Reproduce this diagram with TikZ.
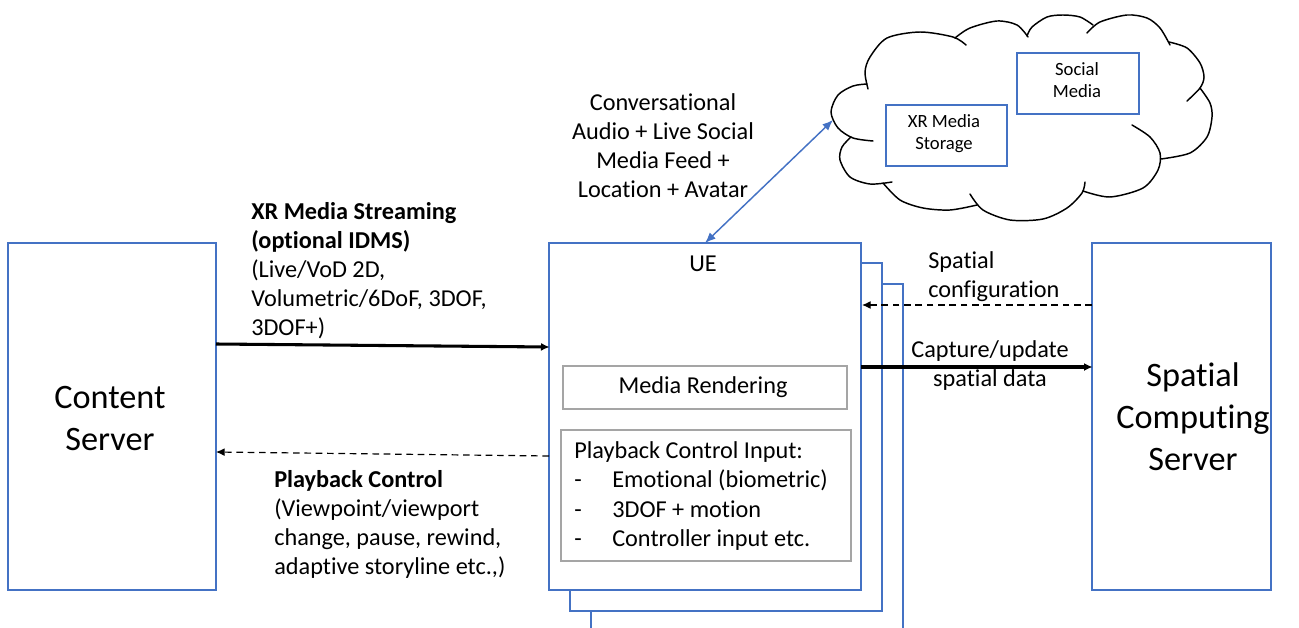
\documentclass[tikz,border=0pt]{standalone}
\usepackage{fontspec}
\setmainfont[Ligatures=NoCommon]{Carlito}
\usetikzlibrary{arrows.meta}
\definecolor{bl}{HTML}{4472C4}
\definecolor{gr}{HTML}{A5A5A5}
\tikzset{
 x=0.75pt,y=-0.75pt,
 bluebox/.style={draw=bl,line width=1.3pt,fill=white,inner sep=0pt,outer sep=0pt,anchor=north west},
 greybox/.style={draw=gr,line width=1.1pt,fill=white,inner sep=0pt,outer sep=0pt,anchor=north west},
 lab/.style={inner sep=0pt,text=black,font=\fontsize{18.2}{21.75}\selectfont,align=left},
 clab/.style={lab,align=center},
 big/.style={inner sep=0pt,font=\fontsize{25.7}{31.5}\selectfont,align=center},
 small/.style={inner sep=0pt,font=\fontsize{14}{16.5}\selectfont,align=center},
 cloudline/.style={line width=1.1pt,black,line cap=round},
 solidarrow/.style={line width=2.3pt,-{Latex[length=6.5pt,width=6pt]},shorten >=-0.5pt},
 dasharrow/.style={line width=0.9pt,dash pattern=on 5pt off 3.5pt,-{Latex[length=6.5pt,width=6pt]}},
 bluearrow/.style={draw=bl,line width=1.1pt,{Latex[length=8pt,width=6.5pt]}-{Latex[length=8pt,width=6.5pt]}},
}
\begin{document}
\begin{tikzpicture}
\useasboundingbox (0,0) rectangle (1299,628);
% cloud
\draw[cloudline] plot[smooth] coordinates {(868,89) (865,72) (870,57) (887,38) (920,32) (953,37) (966,45)};
\draw[cloudline] plot[smooth] coordinates {(955,38) (970,28) (997,21) (1017,25) (1028,37)};
\draw[cloudline] plot[smooth] coordinates {(1027,36) (1032,27) (1047,17) (1063,15) (1080,17) (1093,25)};
\draw[cloudline] plot[smooth] coordinates {(1087,33) (1100,22) (1127,15) (1147,18) (1160,28) (1170,45)};
\draw[cloudline] plot[smooth] coordinates {(1169,42) (1187,48) (1200,63) (1204,77) (1200,88) (1187,101)};
\draw[cloudline] plot[smooth] coordinates {(1200,88) (1210,103) (1212,117) (1207,137) (1190,153) (1161,159)};
\draw[cloudline] plot[smooth] coordinates {(1132,125) (1150,137) (1160,153) (1158,170) (1143,188) (1110,197) (1083,191)};
\draw[cloudline] plot[smooth] coordinates {(970,194) (983,210) (1010,220) (1043,219) (1067,208) (1082,193) (1085,182)};
\draw[cloudline] plot[smooth] coordinates {(883,183) (900,200) (923,208) (950,210) (977,205)};
\draw[cloudline] plot[smooth] coordinates {(892,182) (870,184) (850,177) (840,160) (842,147) (851,137)};
\draw[cloudline] plot[smooth] coordinates {(873,141) (853,138) (838,128) (831,112) (838,95) (853,86) (867,84)};
% stacked UE boxes
\coordinate (u3bl) at (591,628);
\coordinate (u3tl) at (591,284);
\coordinate (u3tr) at (903,284);
\coordinate (u3br) at (903,628);
\draw[bl,line width=1.3pt] (u3bl) -- (u3tl) -- (u3tr) -- (u3br);
\node[bluebox,minimum width=312pt*0.75,minimum height=348pt*0.75] (ue2) at (570,263) {};
\node[bluebox,minimum width=312pt*0.75,minimum height=347pt*0.75] (ue) at (549,243) {};
\node[lab] (uet) at (703,263.5) {UE};
\node[greybox,minimum width=284pt*0.75,minimum height=43pt*0.75] (mr) at (563,366) {};
\node[lab] (mrt) at (703,387.5) {Media Rendering};
\node[greybox,minimum width=290pt*0.75,minimum height=131pt*0.75] (pc) at (561,430) {};
\node[lab,anchor=base west] (p0) at (574,458) {Playback Control Input:};
\node[lab,anchor=base west] (p1a) at (574,487) {-};
\node[lab,anchor=base west] (p1) at (612,487) {Emotional (biometric)};
\node[lab,anchor=base west] (p2a) at (574,517) {-};
\node[lab,anchor=base west] (p2) at (612,517) {3DOF + motion};
\node[lab,anchor=base west] (p3a) at (574,546) {-};
\node[lab,anchor=base west] (p3) at (612,546) {Controller input etc.};
% server boxes
\node[bluebox,minimum width=208pt*0.75,minimum height=347pt*0.75] (cs) at (8,243) {};
\node[big] (cst) at (110,418) {Content\\Server};
\node[bluebox,minimum width=179pt*0.75,minimum height=347pt*0.75] (scs) at (1092,243) {};
\node[big] (scst) at (1193,417) {Spatial\\Computing\\Server};
% cloud boxes
\node[bluebox,minimum width=121pt*0.75,minimum height=61pt*0.75] (xr) at (886,105) {};
\node[small] (xrt) at (944,134) {XR Media\\Storage};
\node[bluebox,minimum width=122pt*0.75,minimum height=61pt*0.75] (sm) at (1017,53) {};
\node[small] (smt) at (1077,80) {Social\\Media};
% connectors
\coordinate (cloudtip) at (833,120);
\coordinate (uetop) at (705,243);
\draw[bluearrow] (uetop) -- (cloudtip);
\coordinate (a1) at (216,344);
\coordinate (a2) at (549,347);
\draw[solidarrow] (a1) -- (a2);
\coordinate (b1) at (549,456);
\coordinate (b2) at (216,452);
\draw[dasharrow] (b1) -- (b2);
\coordinate (c1) at (1092,305);
\coordinate (c2) at (862,305);
\draw[dasharrow] (c1) -- (c2);
\coordinate (d1) at (861,367);
\coordinate (d2) at (1092,367);
\draw[solidarrow] (d1) -- (d2);
% labels
\node[clab] (t1) at (663,146) {Conversational\\Audio + Live Social\\Media Feed +\\Location + Avatar};
\node[lab,anchor=north west] (t2) at (251,202) {\textbf{XR Media Streaming}\\\textbf{(optional IDMS)}\\(Live/VoD 2D,\\Volumetric/6DoF, 3DOF,\\3DOF+)};
\node[lab,anchor=north west] (t3) at (274,470) {\textbf{Playback Control}\\(Viewpoint/viewport\\change, pause, rewind,\\adaptive storyline etc.,)};
\node[lab,anchor=north west] (t4) at (928,251) {Spatial\\configuration};
\node[clab] (t5) at (990,366) {Capture/update\\spatial data};
\end{tikzpicture}
\end{document}
